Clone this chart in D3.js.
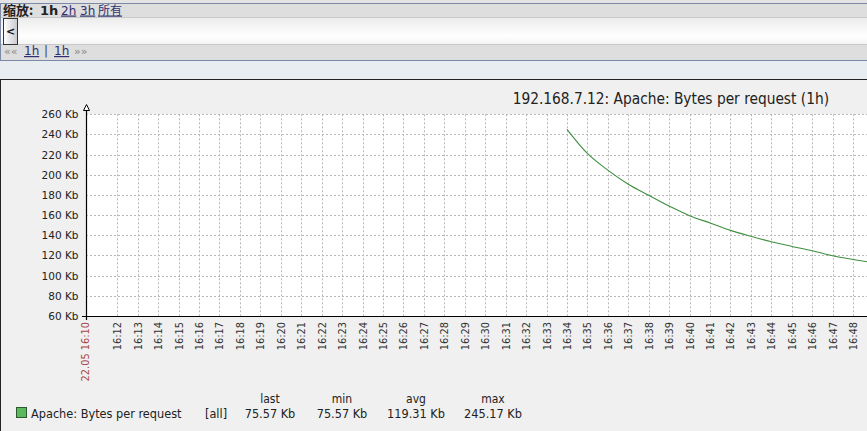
<!DOCTYPE html>
<html>
<head>
<meta charset="utf-8">
<script src="https://cdn.jsdelivr.net/npm/d3@7"></script>
<style>
  html, body { margin: 0; padding: 0; background: #f0f0f0; }
  svg { display: block; }
</style>
</head>
<body>
<svg id="chart" width="867" height="431"></svg>
<script>
// ---------------- data ----------------
const chartTitle = "192.168.7.12: Apache: Bytes per request (1h)";
const startLabel = "22.05 16:10";
const startMinute = 10.47;          // 16:10:28
const endMinute = 49.5;
const tickMinutes = [12,13,14,15,16,17,18,19,20,21,22,23,24,25,26,27,28,29,30,31,32,33,34,35,36,37,38,39,40,41,42,43,44,45,46,47,48];
const tickLabels = tickMinutes.map(m => "16:" + String(m).padStart(2, "0"));
const yTicks = [60, 80, 100, 120, 140, 160, 180, 200, 220, 240, 260];
const seriesMinutes = [34, 35, 36, 37, 38, 39, 40, 41, 42, 43, 44, 45, 46, 47, 48, 48.7];
const seriesValues = [245.17, 221.2, 204.6, 190.6, 179.7, 169.0, 159.5, 152.2, 144.9, 139.0, 133.6, 129.0, 124.7, 119.7, 116.0, 113.7];
const legendName = "Apache: Bytes per request";
const legendFunc = "[all]";
const legendHeaders = ["last", "min", "avg", "max"];
const legendValues = ["75.57 Kb", "75.57 Kb", "119.31 Kb", "245.17 Kb"];

// ---------------- layout ----------------
const svg = d3.select("#chart");
const plot = { left: 86, top: 114.3, bottom: 316, right: 86 + (endMinute - startMinute) * 20.44 };

const defs = svg.append("defs");
const g1 = defs.append("linearGradient").attr("id", "bar").attr("x1", 0).attr("y1", 0).attr("x2", 0).attr("y2", 1);
g1.append("stop").attr("offset", "0%").attr("stop-color", "#ececec");
g1.append("stop").attr("offset", "70%").attr("stop-color", "#ffffff");
g1.append("stop").attr("offset", "100%").attr("stop-color", "#f4f4f4");
const g2 = defs.append("linearGradient").attr("id", "btn").attr("x1", 0).attr("y1", 0).attr("x2", 1).attr("y2", 0);
g2.append("stop").attr("offset", "0%").attr("stop-color", "#ffffff");
g2.append("stop").attr("offset", "100%").attr("stop-color", "#c8c8d0");

// ---------- toolbar ----------
svg.append("rect").attr("x", 0).attr("y", 0).attr("width", 867).attr("height", 3).attr("fill", "#e4e4e4");
svg.append("rect").attr("x", 0).attr("y", 3).attr("width", 867).attr("height", 57).attr("fill", "#dedede");
svg.append("rect").attr("x", 1).attr("y", 18).attr("width", 866).attr("height", 26).attr("fill", "url(#bar)");
svg.append("line").attr("x1", 0).attr("x2", 867).attr("y1", 17.5).attr("y2", 17.5).attr("stroke", "#c9c9c9");
svg.append("line").attr("x1", 0).attr("x2", 867).attr("y1", 44.5).attr("y2", 44.5).attr("stroke", "#c9c9c9");
svg.append("line").attr("x1", 0).attr("x2", 867).attr("y1", 3.5).attr("y2", 3.5).attr("stroke", "#7a8aa6");
svg.append("line").attr("x1", 0).attr("x2", 867).attr("y1", 60.5).attr("y2", 60.5).attr("stroke", "#7a8aa6");
svg.append("line").attr("x1", 0.5).attr("x2", 0.5).attr("y1", 3).attr("y2", 61).attr("stroke", "#7a8aa6");
svg.append("rect").attr("x", 0).attr("y", 61).attr("width", 867).attr("height", 18).attr("fill", "#e8edf2");

// button
svg.append("rect").attr("x", 3.5).attr("y", 18.5).attr("width", 14).attr("height", 26)
  .attr("fill", "url(#btn)").attr("stroke", "#333").attr("stroke-width", 1);
svg.append("text").attr("x", 10.5).attr("y", 35).attr("text-anchor", "middle")
  .attr("font-family", "DejaVu Sans").attr("font-weight", "bold").attr("font-size", 11).attr("fill", "#111").text("<");

const tb = svg.append("g").attr("font-family", "DejaVu Sans, 'Noto Sans CJK SC'").attr("font-size", 12);
tb.append("text").attr("x", 3).attr("y", 14.5).attr("font-weight", "bold").attr("fill", "#222")
  .attr("font-family", "'Noto Sans CJK SC'").attr("font-size", 13).text("缩放:");
tb.append("text").attr("x", 40).attr("y", 14.5).attr("font-weight", "bold").attr("fill", "#222").attr("font-size", 13).text("1h");
const linkCol = "#303070";
[["2h", 61], ["3h", 80], ["所有", 98]].forEach(([t, x]) => {
  tb.append("text").attr("x", x).attr("y", 14.5).attr("fill", linkCol).attr("text-decoration", "underline")
    .attr("font-family", t === "所有" ? "'Noto Sans CJK SC'" : "DejaVu Sans").text(t);
});
tb.append("text").attr("x", 4).attr("y", 55).attr("fill", "#888").attr("font-size", 11).text("««");
tb.append("text").attr("x", 24).attr("y", 55).attr("fill", linkCol).attr("text-decoration", "underline").text("1h");
tb.append("text").attr("x", 44).attr("y", 55).attr("fill", "#444").text("|");
tb.append("text").attr("x", 54).attr("y", 55).attr("fill", linkCol).attr("text-decoration", "underline").text("1h");
tb.append("text").attr("x", 74).attr("y", 55).attr("fill", "#888").attr("font-size", 11).text("»»");

// ---------- graph frame ----------
svg.append("rect").attr("x", 0).attr("y", 79).attr("width", 867).attr("height", 352).attr("fill", "#f0f0f0");
svg.append("line").attr("x1", 0).attr("x2", 867).attr("y1", 79.5).attr("y2", 79.5).attr("stroke", "#222");
svg.append("line").attr("x1", 0.5).attr("x2", 0.5).attr("y1", 79).attr("y2", 431).attr("stroke", "#222");

svg.append("text").attr("x", 829).attr("y", 104).attr("text-anchor", "end")
  .attr("font-family", "'DejaVu Sans Condensed', 'DejaVu Sans'").attr("font-size", 15.3).attr("fill", "#222")
  .text(chartTitle);

// scales
const x = d3.scaleLinear().domain([startMinute, endMinute]).range([plot.left, plot.right]);
const y = d3.scaleLinear().domain([60, 260]).range([plot.bottom, plot.top]);

// plot background
svg.append("rect").attr("x", plot.left).attr("y", plot.top).attr("width", plot.right - plot.left)
  .attr("height", plot.bottom - plot.top).attr("fill", "#ffffff");

// grid
const grid = svg.append("g").attr("stroke", "#b8b8b8").attr("stroke-dasharray", "2,2").attr("stroke-width", 1);
grid.selectAll("line.h").data(yTicks.slice(1)).join("line").attr("class", "h")
  .attr("x1", plot.left).attr("x2", plot.right)
  .attr("y1", d => Math.round(y(d)) + 0.5).attr("y2", d => Math.round(y(d)) + 0.5);
grid.selectAll("line.v").data(tickMinutes).join("line").attr("class", "v")
  .attr("x1", d => Math.round(x(d)) + 0.5).attr("x2", d => Math.round(x(d)) + 0.5)
  .attr("y1", plot.top).attr("y2", plot.bottom);

// line
const line = d3.line().curve(d3.curveMonotoneX).x((d, i) => x(seriesMinutes[i])).y(d => y(d));
svg.append("path").datum(seriesValues).attr("d", line).attr("fill", "none")
  .attr("stroke", "#3f8f3f").attr("stroke-width", 1.1);

// y axis
const yAxis = d3.axisLeft(y).tickValues(yTicks).tickFormat(d => d + " Kb").tickSize(0).tickPadding(8);
const ya = svg.append("g").attr("transform", `translate(${plot.left + 0.5},0)`).call(yAxis);
ya.select(".domain").remove();
ya.selectAll("text").attr("font-family", "DejaVu Sans").attr("font-size", 10.5).attr("fill", "#222");

// x axis labels
const xAxis = d3.axisBottom(x).tickValues(tickMinutes).tickFormat((d, i) => tickLabels[i]).tickSize(0);
const xa = svg.append("g").attr("transform", `translate(0,${plot.bottom})`).call(xAxis);
xa.select(".domain").remove();
xa.selectAll("text").attr("font-family", "DejaVu Sans").attr("font-size", 9.8).attr("fill", "#333")
  .attr("transform", "rotate(-90)").attr("text-anchor", "end").attr("dx", "-6").attr("dy", "0.35em")
  .attr("x", 0).attr("y", 0)
  .each(function(d) { d3.select(this.parentNode).attr("transform", `translate(${Math.round(x(d)) + 0.5},0)`); });
svg.append("text").attr("transform", `translate(${plot.left},${plot.bottom + 6}) rotate(-90)`)
  .attr("text-anchor", "end").attr("dy", "0.35em").attr("font-family", "DejaVu Sans").attr("font-size", 9.8)
  .attr("fill", "#a84848").text(startLabel);

// axis lines + arrow
svg.append("line").attr("x1", plot.left - 4).attr("x2", 867).attr("y1", plot.bottom + 0.5).attr("y2", plot.bottom + 0.5)
  .attr("stroke", "#000").attr("stroke-width", 1.2);
svg.append("line").attr("x1", plot.left + 0.5).attr("x2", plot.left + 0.5).attr("y1", 109).attr("y2", plot.bottom + 4)
  .attr("stroke", "#000").attr("stroke-width", 1.2);
svg.append("path").attr("d", `M${plot.left + 0.5},104.5 L${plot.left - 2.5},110.5 L${plot.left + 3.5},110.5 Z`)
  .attr("fill", "#fff").attr("stroke", "#000").attr("stroke-width", 1);

// legend
const lg = svg.append("g").attr("font-family", "'DejaVu Sans Condensed', 'DejaVu Sans'").attr("font-size", 12).attr("fill", "#222");
lg.append("rect").attr("x", 16.5).attr("y", 407.5).attr("width", 10).attr("height", 10)
  .attr("fill", "#5cb85c").attr("stroke", "#2d5a2d");
lg.append("text").attr("x", 31).attr("y", 418).attr("font-size", 12.6).text(legendName);
lg.append("text").attr("x", 205).attr("y", 418).attr("font-size", 12.6).text(legendFunc);
const colX = [270, 342, 416, 493];
lg.selectAll("text.h").data(legendHeaders).join("text").attr("class", "h")
  .attr("x", (d, i) => colX[i]).attr("y", 403).attr("text-anchor", "middle").text(d => d);
lg.selectAll("text.v").data(legendValues).join("text").attr("class", "v")
  .attr("x", (d, i) => colX[i]).attr("y", 418).attr("font-size", 12.6).attr("text-anchor", "middle").text(d => d);
</script>
</body>
</html>
